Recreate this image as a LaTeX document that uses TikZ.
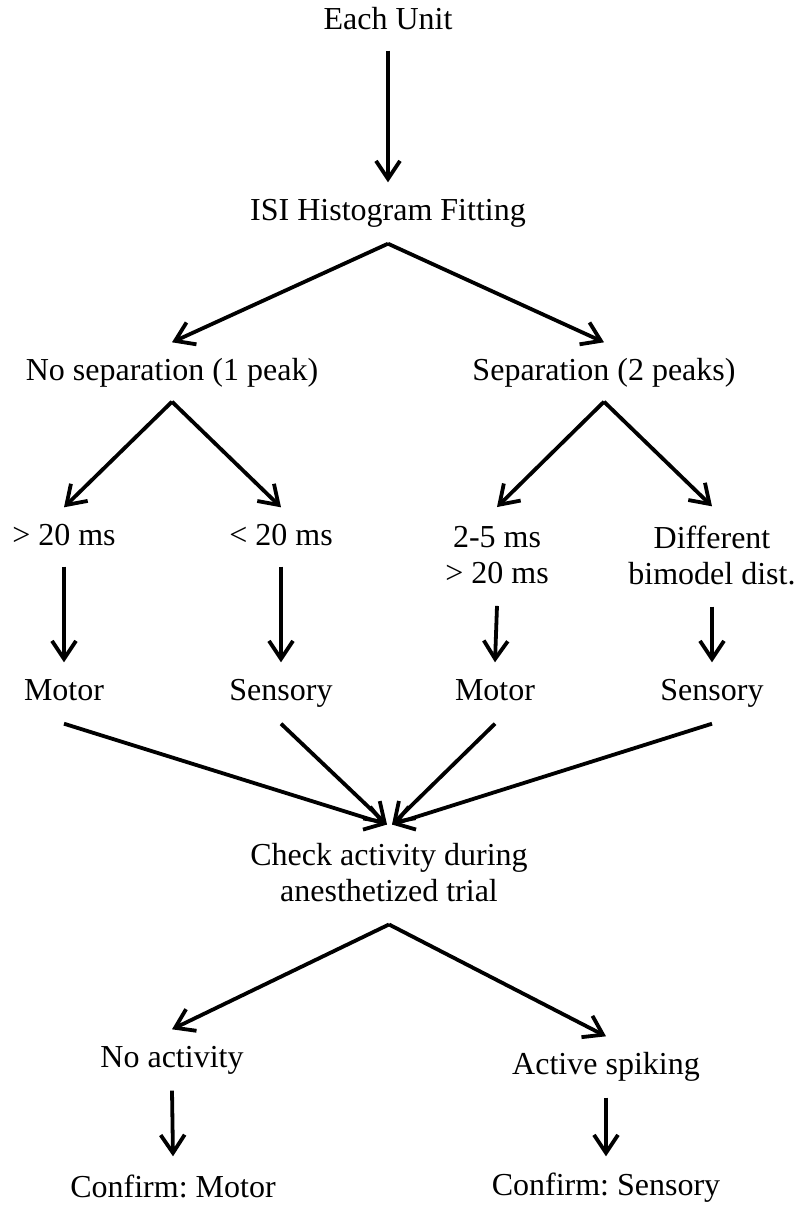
\documentclass[tikz,border=0pt]{standalone}
\usepackage{fontspec}
\setmainfont{Liberation Serif}
\usetikzlibrary{arrows.meta}
\frenchspacing

\begin{document}
\begin{tikzpicture}
[
	x=1pt, y=-1pt,
	lbl/.style={inner sep=0pt, font=\fontsize{32}{36}\selectfont, text height=22pt, text depth=7pt},
	twoline/.style={inner sep=0pt, font=\fontsize{32}{36}\selectfont, align=center},
	flow/.style={-{Straight Barb[length=18pt,width=24pt]}, line width=3.8pt}
]

	\useasboundingbox (0,0) rectangle (801,1206);

	% top
	\node[lbl] at (388,22) (unit) {Each Unit};
	\node[lbl] at (388,213) (isi) {ISI Histogram Fitting};
	\node[lbl] at (172,373) (nosep) {No separation (1 peak)};
	\node[lbl] at (604,373) (sep) {Separation (2 peaks)};

	% criteria
	\node[lbl] at (64,538) (slow) {> 20 ms};
	\node[lbl] at (281,538) (fast) {< 20 ms};
	\node[twoline] at (497,555) (burst) {2-5 ms\\> 20 ms};
	\node[twoline] at (712,555) (bimod) {Different\\bimodel dist.};

	% classes
	\node[lbl] at (64,693) (motora) {Motor};
	\node[lbl] at (281,693) (sensa) {Sensory};
	\node[lbl] at (495,693) (motorb) {Motor};
	\node[lbl] at (712,693) (sensb) {Sensory};

	% check
	\node[twoline] at (389,873) (check) {Check activity during\\anesthetized trial};
	\node[lbl] at (172,1060) (quiet) {No activity};
	\node[lbl] at (606,1067) (spiking) {Active spiking};
	\node[lbl] at (173,1190) (confm) {Confirm: Motor};
	\node[lbl] at (606,1188) (confs) {Confirm: Sensory};

	% forks
	\coordinate (isifork) at ([yshift=-16pt]isi.south);
	\coordinate (nsfork) at ([yshift=-14pt]nosep.south);
	\coordinate (sfork) at ([yshift=-14pt]sep.south);
	\coordinate (mergel) at ([shift={(-2,-19)}]check.north);
	\coordinate (merger) at ([shift={(3,-19)}]check.north);
	\coordinate (chkfork) at ([yshift=-22pt]check.south);

	% arrows
	\draw[flow] ([yshift=-14pt]unit.south) -- ([yshift=16pt]isi.north);
	\draw[flow] (isifork) -- ([yshift=16pt]nosep.north);
	\draw[flow] (isifork) -- ([yshift=16pt]sep.north);
	\draw[flow] (nsfork) -- ([yshift=16pt]slow.north);
	\draw[flow] (nsfork) -- ([yshift=16pt]fast.north);
	\draw[flow] (sfork) -- ([yshift=19pt]burst.north);
	\draw[flow] (sfork) -- ([yshift=19pt]bimod.north);

	\draw[flow] ([yshift=-14pt]slow.south) -- ([yshift=16pt]motora.north);
	\draw[flow] ([yshift=-14pt]fast.south) -- ([yshift=16pt]sensa.north);
	\draw[flow] ([yshift=-22pt]burst.south) -- ([yshift=16pt]motorb.north);
	\draw[flow] ([yshift=-22pt]bimod.south) -- ([yshift=16pt]sensb.north);

	\draw[flow] ([yshift=-16pt]motora.south) -- (mergel);
	\draw[flow] ([yshift=-16pt]sensa.south) -- (mergel);
	\draw[flow] ([yshift=-16pt]motorb.south) -- (merger);
	\draw[flow] ([yshift=-16pt]sensb.south) -- (merger);

	\draw[flow] (chkfork) -- ([yshift=16pt]quiet.north);
	\draw[flow] (chkfork) -- ([yshift=16pt]spiking.north);
	\draw[flow] ([yshift=-16pt]quiet.south) -- ([yshift=19pt]confm.north);
	\draw[flow] ([yshift=-16pt]spiking.south) -- ([yshift=17pt]confs.north);

\end{tikzpicture}
\end{document}
